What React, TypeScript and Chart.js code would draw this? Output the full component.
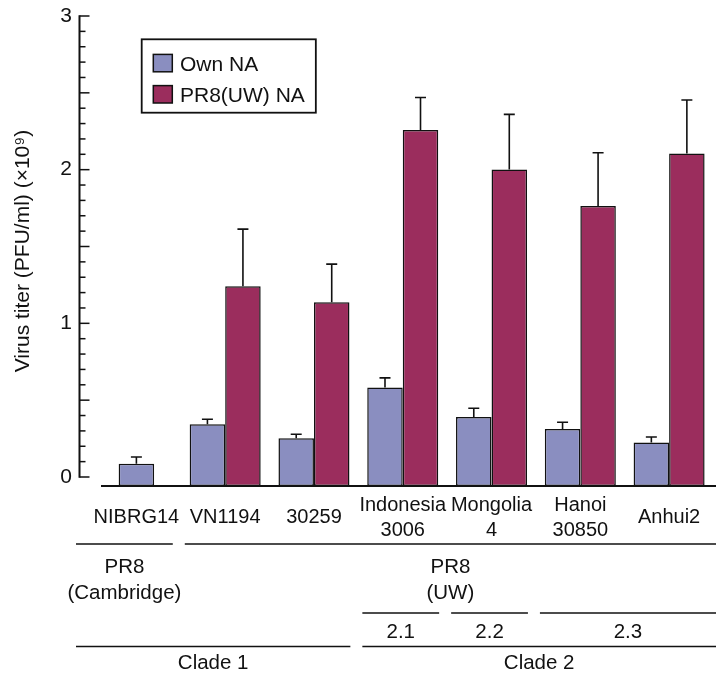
import { useEffect, useRef } from "react";
import { Chart, registerables } from "chart.js";

Chart.register(...registerables);

// ---------- data ----------
const categories: (string | string[])[] = [
  "NIBRG14",
  "VN1194",
  "30259",
  ["Indonesia", "3006"],
  ["Mongolia", "4"],
  ["Hanoi", "30850"],
  "Anhui2",
];
const seriesNames = ["Own NA", "PR8(UW) NA"];
const ownNA = [0.087, 0.343, 0.252, 0.582, 0.391, 0.313, 0.224];
const ownNAErr = [0.043, 0.033, 0.026, 0.063, 0.056, 0.043, 0.036];
const pr8NA = [null, 1.242, 1.137, 2.258, 2.001, 1.763, 2.106];
const pr8NAErr = [null, 0.371, 0.248, 0.212, 0.359, 0.347, 0.347];
const yTickValues = [0, 1, 2, 3];
const yTitle = "Virus titer (PFU/ml) (×10⁹)";

const backboneGroups = [
  { label: ["PR8", "(Cambridge)"], from: 0, to: 0 },
  { label: ["PR8", "(UW)"], from: 1, to: 6 },
];
const subcladeGroups = [
  { label: ["2.1"], from: 3, to: 3 },
  { label: ["2.2"], from: 4, to: 4 },
  { label: ["2.3"], from: 5, to: 6 },
];
const cladeGroups = [
  { label: ["Clade 1"], from: 0, to: 2 },
  { label: ["Clade 2"], from: 3, to: 6 },
];

// ---------- style ----------
const FONT = "'Liberation Sans', Arial, Helvetica, sans-serif";
const INK = "#111111";
const OWN_COLOR = "#8a8ec0";
const PR8_COLOR = "#9b2d5d";
const Y_MIN = -0.0586;
const Y_MAX = 3;
const MINOR_STEP = 0.1;
const CAP = 11;

const errorBarPlugin = {
  id: "errorBars",
  afterDatasetsDraw(chart: any) {
    const { ctx } = chart;
    const y = chart.scales.y;
    ctx.save();
    ctx.strokeStyle = INK;
    ctx.lineWidth = 1.6;
    chart.data.datasets.forEach((ds: any, di: number) => {
      const meta = chart.getDatasetMeta(di);
      ds.data.forEach((v: number | null, i: number) => {
        const e = ds.errors ? ds.errors[i] : null;
        if (v == null || e == null) return;
        const bar = meta.data[i];
        const top = y.getPixelForValue(v + e);
        ctx.beginPath();
        ctx.moveTo(bar.x, bar.y);
        ctx.lineTo(bar.x, top);
        ctx.moveTo(bar.x - CAP / 2, top);
        ctx.lineTo(bar.x + CAP / 2, top);
        ctx.stroke();
      });
    });
    ctx.restore();
  },
};

const axisPlugin = {
  id: "frameAxes",
  afterDatasetsDraw(chart: any) {
    const { ctx, chartArea } = chart;
    const y = chart.scales.y;
    const ax = chartArea.left - 12.5;
    const y0 = y.getPixelForValue(0);
    const yTop = y.getPixelForValue(Y_MAX);
    ctx.save();
    ctx.strokeStyle = INK;
    ctx.lineWidth = 2;
    ctx.beginPath();
    ctx.moveTo(ax, y0 + 0.8);
    ctx.lineTo(ax, yTop - 0.8);
    ctx.stroke();
    ctx.lineWidth = 1.5;
    const n = Math.round(Y_MAX / MINOR_STEP);
    for (let k = 0; k <= n; k++) {
      const py = y.getPixelForValue(k * MINOR_STEP);
      const len = k % 5 === 0 ? 10 : 6;
      ctx.beginPath();
      ctx.moveTo(ax, py);
      ctx.lineTo(ax + len, py);
      ctx.stroke();
    }
    ctx.lineWidth = 1.8;
    ctx.beginPath();
    ctx.moveTo(chartArea.left + 9, chartArea.bottom);
    ctx.lineTo(chart.width, chartArea.bottom);
    ctx.stroke();
    ctx.restore();
  },
};

const legendPlugin = {
  id: "boxLegend",
  afterDraw(chart: any) {
    const { ctx, chartArea } = chart;
    const left = chartArea.left + 49.7;
    const top = chartArea.top + 23.3;
    ctx.save();
    ctx.font = `21px ${FONT}`;
    const dss = chart.data.datasets;
    const textW = Math.max(...dss.map((d: any) => ctx.measureText(d.label).width));
    const w = 38.3 + textW + 11;
    const h = 73.4;
    ctx.strokeStyle = INK;
    ctx.lineWidth = 1.8;
    ctx.strokeRect(left, top, w, h);
    dss.forEach((d: any, i: number) => {
      const cy = top + 23.7 + i * 31.2;
      ctx.fillStyle = d.backgroundColor;
      ctx.fillRect(left + 11.6, cy - 8.6, 19, 17.4);
      ctx.lineWidth = 1.5;
      ctx.strokeRect(left + 11.6, cy - 8.6, 19, 17.4);
      ctx.fillStyle = INK;
      ctx.textBaseline = "alphabetic";
      ctx.textAlign = "left";
      ctx.fillText(d.label, left + 38.3, cy + 7.5);
    });
    ctx.restore();
  },
};

const groupPlugin = {
  id: "groupRows",
  afterDraw(chart: any) {
    const { ctx, chartArea } = chart;
    const x = chart.scales.x;
    const half = (x.getPixelForValue(1) - x.getPixelForValue(0)) / 2;
    const last = categories.length - 1;
    const base = chartArea.bottom;
    const rows = [
      { groups: backboneGroups, lineY: base + 58, textY: base + 81 },
      { groups: subcladeGroups, lineY: base + 127, textY: base + 146 },
      { groups: cladeGroups, lineY: base + 160.5, textY: base + 177 },
    ];
    ctx.save();
    ctx.strokeStyle = INK;
    ctx.fillStyle = INK;
    ctx.lineWidth = 1.6;
    ctx.font = `20.5px ${FONT}`;
    ctx.textAlign = "center";
    ctx.textBaseline = "middle";
    rows.forEach((row) => {
      row.groups.forEach((g) => {
        const start = x.getPixelForValue(g.from) - half + (g.from === 0 ? -16 : 4);
        const end = g.to === last ? chart.width : x.getPixelForValue(g.to) + half - 8;
        ctx.beginPath();
        ctx.moveTo(start, row.lineY);
        ctx.lineTo(end, row.lineY);
        ctx.stroke();
        const cx = (start + end) / 2;
        g.label.forEach((line, li) => {
          ctx.fillText(line, cx, row.textY + li * 26);
        });
      });
    });
    ctx.restore();
  },
};

export default function App() {
  const ref = useRef<HTMLCanvasElement>(null);
  useEffect(() => {
    const canvas = ref.current;
    if (!canvas) return;
    Chart.defaults.font.family = FONT;
    Chart.defaults.color = INK;
    const chart = new Chart(canvas, {
      type: "bar",
      data: {
        labels: categories,
        datasets: [
          {
            label: seriesNames[0],
            data: ownNA,
            errors: ownNAErr,
            backgroundColor: OWN_COLOR,
          } as any,
          {
            label: seriesNames[1],
            data: pr8NA,
            errors: pr8NAErr,
            backgroundColor: PR8_COLOR,
          } as any,
        ],
      },
      options: {
        responsive: false,
        animation: false,
        events: [],
        layout: { padding: { top: 16, right: 2.5, left: 0, bottom: 0 } },
        plugins: {
          legend: { display: false },
          tooltip: { enabled: false },
        },
        datasets: {
          bar: {
            categoryPercentage: 0.8,
            barPercentage: 1,
            maxBarThickness: 35.5,
            skipNull: true,
            borderWidth: 1.5,
            borderColor: INK,
            borderSkipped: false,
            base: Y_MIN,
          } as any,
        },
        scales: {
          x: {
            type: "category",
            offset: true,
            grid: { display: false, drawTicks: false },
            border: { display: false },
            ticks: {
              font: { size: 20, lineHeight: 1.25 },
              color: INK,
              padding: 19,
              maxRotation: 0,
              minRotation: 0,
              autoSkip: false,
              crossAlign: "center",
            },
            afterFit: (s: any) => {
              s.height = 189;
              s.paddingLeft = 0;
              s.paddingRight = 0;
            },
          },
          y: {
            type: "linear",
            min: Y_MIN,
            max: Y_MAX,
            grid: { display: false, drawTicks: false },
            border: { display: false },
            ticks: { font: { size: 21 }, padding: 20, color: INK },
            afterBuildTicks: (s: any) => {
              s.ticks = yTickValues.map((v) => ({ value: v }));
            },
            afterFit: (s: any) => {
              s.width = 92;
              s.paddingTop = 0;
              s.paddingBottom = 0;
            },
            title: {
              display: true,
              text: yTitle,
              font: { size: 21 },
              color: INK,
              padding: { top: 11, bottom: 0 },
            },
          },
        },
      } as any,
      plugins: [errorBarPlugin, axisPlugin, legendPlugin, groupPlugin],
    });
    return () => chart.destroy();
  }, []);

  return (
    <canvas
      ref={ref}
      width={716}
      height={675}
      style={{ position: "absolute", left: 0, top: 0, display: "block" }}
    />
  );
}
